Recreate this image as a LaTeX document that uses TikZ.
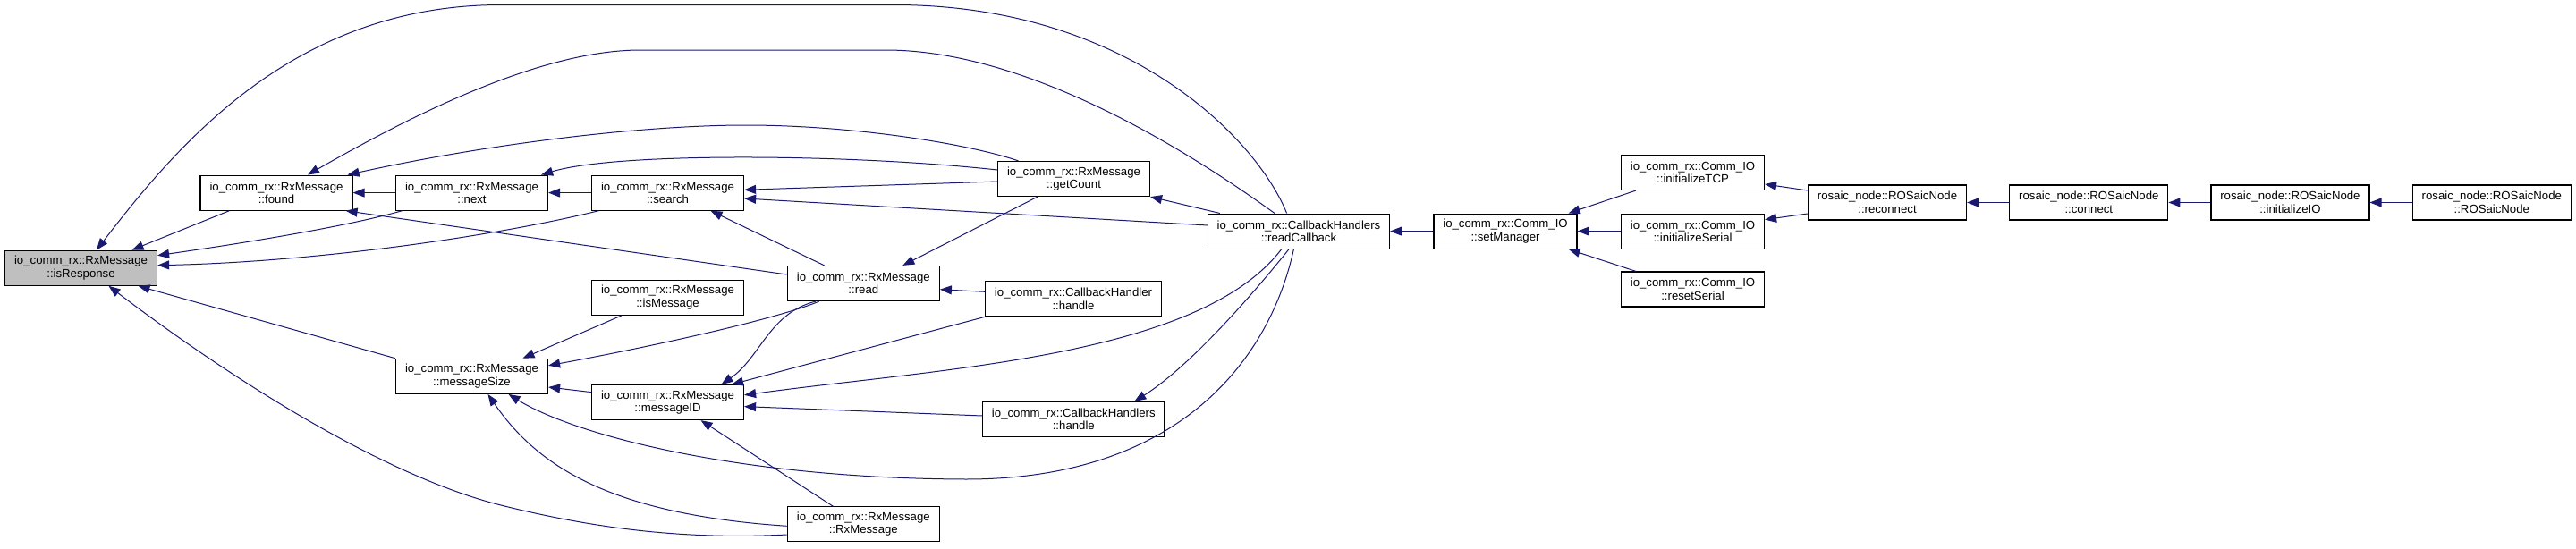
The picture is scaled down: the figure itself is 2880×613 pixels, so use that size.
\documentclass[tikz,border=0pt]{standalone}
\usepackage{fontspec}
\setmainfont{Liberation Sans}
\usetikzlibrary{arrows.meta}
\definecolor{edgeblue}{HTML}{191970}
\definecolor{rootgray}{HTML}{BFBFBF}

\begin{document}
\begin{tikzpicture}[x=1pt,y=-1pt,
  fn/.style={draw=black, line width=1.2pt, fill=white, align=center, inner sep=0pt,
    minimum height=39pt, font=\fontsize{13.2}{14.5}\selectfont},
  rx/.style={fn, minimum width=170pt},
  cb/.style={fn, minimum width=203pt},
  io/.style={fn, minimum width=160pt},
  ros/.style={fn, minimum width=177pt},
  callline/.style={draw=edgeblue, line width=1pt, arrows={Triangle[length=13pt,width=10pt]-}}]
  \useasboundingbox (0,0) rectangle (2880,613);

  % RxMessage nodes
  \node[rx, fill=rootgray] (isResponse) at (90.5,299.7) {io\_comm\_rx::RxMessage\\::isResponse};
  \node[rx] (found) at (309,215.6) {io\_comm\_rx::RxMessage\\::found};
  \node[rx] (next) at (527.5,215.6) {io\_comm\_rx::RxMessage\\::next};
  \node[rx] (search) at (746.5,215.6) {io\_comm\_rx::RxMessage\\::search};
  \node[rx] (getCount) at (1200.5,200) {io\_comm\_rx::RxMessage\\::getCount};
  \node[rx] (read) at (965.3,317) {io\_comm\_rx::RxMessage\\::read};
  \node[rx] (isMessage) at (746.5,332.8) {io\_comm\_rx::RxMessage\\::isMessage};
  \node[rx] (msgSize) at (527.5,420.8) {io\_comm\_rx::RxMessage\\::messageSize};
  \node[rx] (msgID) at (746.5,450) {io\_comm\_rx::RxMessage\\::messageID};
  \node[rx] (rxMsg) at (965.3,586.3) {io\_comm\_rx::RxMessage\\::RxMessage};
  % callback handlers
  \node[cb, minimum width=197pt] (cbHandle) at (1200,334.3) {io\_comm\_rx::CallbackHandler\\::handle};
  \node[cb] (cbsHandle) at (1200.3,469) {io\_comm\_rx::CallbackHandlers\\::handle};
  \node[cb] (readCb) at (1452,258.6) {io\_comm\_rx::CallbackHandlers\\::readCallback};
  % Comm_IO
  \node[io] (setMgr) at (1683,258.6) {io\_comm\_rx::Comm\_IO\\::setManager};
  \node[io] (initTCP) at (1892.5,193) {io\_comm\_rx::Comm\_IO\\::initializeTCP};
  \node[io] (initSerial) at (1892.5,258.6) {io\_comm\_rx::Comm\_IO\\::initializeSerial};
  \node[io] (resetSerial) at (1892.5,323.5) {io\_comm\_rx::Comm\_IO\\::resetSerial};
  % ROSaicNode
  \node[ros] (reconnect) at (2110,226.5) {rosaic\_node::ROSaicNode\\::reconnect};
  \node[ros] (connect) at (2335.3,226.5) {rosaic\_node::ROSaicNode\\::connect};
  \node[ros] (initIO) at (2560.4,226.5) {rosaic\_node::ROSaicNode\\::initializeIO};
  \node[ros] (rosaicNode) at (2785.8,226.5) {rosaic\_node::ROSaicNode\\::ROSaicNode};

  % callers of isResponse
  \draw[callline] ([xshift=17.5pt]isResponse.north) .. controls (200,160) and (330,5.5) .. (560,5.5) -- (1000,5.5) .. controls (1260,5.5) and (1405,155) .. ([xshift=-13.4pt]readCb.north);
  \draw[callline] ([xshift=57pt]isResponse.north) -- ([xshift=33pt]found.south west);
  \draw[callline] ([yshift=14pt]isResponse.east) .. controls (300,268) and (400,250) .. ([xshift=7.6pt]next.south west);
  \draw[callline] ([yshift=3pt]isResponse.east) .. controls (350,293) and (550,265) .. ([xshift=8.5pt]search.south west);
  \draw[callline] ([xshift=64pt]isResponse.south) -- (msgSize.north west);
  \draw[callline] ([xshift=31pt]isResponse.south) .. controls (240,410) and (420,530) .. (560,565) .. controls (680,595) and (780,603) .. ([yshift=-11.7pt]rxMsg.west);

  % callers of found
  \draw[callline] ([xshift=35pt]found.north) .. controls (450,135) and (600,56) .. (716,56) -- (990,56) .. controls (1150,56) and (1330,170) .. ([xshift=-27pt]readCb.north);
  \draw[callline] ([xshift=-6pt]found.north east) .. controls (550,160) and (720,140) .. (834,140) .. controls (950,140) and (1080,160) .. ([xshift=-62pt]getCount.north);
  \draw[callline] (found.east) -- (next.west);
  \draw[callline] ([xshift=-8pt]found.south east) -- ([yshift=10pt]read.west);

  % callers of next and search
  \draw[callline] ([xshift=-8pt]next.north east) .. controls (690,170) and (950,172) .. ([yshift=10pt]getCount.west);
  \draw[callline] (next.east) -- (search.west);
  \draw[callline] ([yshift=3.3pt]search.east) -- ([yshift=-3pt]getCount.west);
  \draw[callline] ([yshift=-6.4pt]search.east) -- ([yshift=6.6pt]readCb.west);
  \draw[callline] ([xshift=48pt]search.south) -- ([xshift=-43.7pt]read.north);

  % getCount and read
  \draw[callline] (getCount.south east) -- ([xshift=14pt]readCb.north west);
  \draw[callline] ([xshift=44pt]read.north) -- ([xshift=-40.5pt]getCount.south);
  \draw[callline] ([yshift=-6.7pt]read.east) -- ([yshift=8pt]cbHandle.west);

  % callers of messageSize
  \draw[callline] ([xshift=57pt]msgSize.north) -- ([xshift=34pt]isMessage.south west);
  \draw[callline] ([yshift=12pt]msgSize.east) .. controls (700,393) and (860,360) .. ([xshift=36pt]read.south west);
  \draw[callline] ([yshift=-12.2pt]msgSize.east) -- ([yshift=11.4pt]msgID.west);
  \draw[callline] ([xshift=18pt]msgSize.south) .. controls (600,520) and (680,575) .. ([yshift=-2pt]rxMsg.west);
  \draw[callline] ([xshift=41pt]msgSize.south) .. controls (640,485) and (820,535) .. (1080,536) .. controls (1320,536) and (1420,400) .. ([xshift=-5.6pt]readCb.south);

  % callers of messageID
  \draw[callline] ([xshift=60pt]msgID.north) .. controls (850,400) and (860,350) .. ([xshift=32pt]read.south west);
  \draw[callline] ([xshift=-14pt]msgID.north east) -- (cbHandle.south west);
  \draw[callline] ([yshift=8.2pt]msgID.east) .. controls (1050,412) and (1340,400) .. ([xshift=-19.3pt]readCb.south);
  \draw[callline] ([yshift=-4.6pt]msgID.east) -- ([yshift=4pt]cbsHandle.west);
  \draw[callline] ([xshift=37pt]msgID.south) -- ([xshift=-34pt]rxMsg.north);

  % callers of CallbackHandlers::handle
  \draw[callline] ([xshift=68pt]cbsHandle.north) .. controls (1330,410) and (1400,330) .. ([xshift=-11pt]readCb.south);

  % Comm_IO and ROSaicNode chain
  \draw[callline] (readCb.east) -- (setMgr.west);
  \draw[callline] ([xshift=-10pt]setMgr.north east) -- ([xshift=17pt]initTCP.south west);
  \draw[callline] (setMgr.east) -- (initSerial.west);
  \draw[callline] ([xshift=-10pt]setMgr.south east) -- ([xshift=17pt]resetSerial.north west);
  \draw[callline] ([yshift=-13pt]initTCP.east) -- ([yshift=13.5pt]reconnect.west);
  \draw[callline] ([yshift=13pt]initSerial.east) -- ([yshift=-12.5pt]reconnect.west);
  \draw[callline] (reconnect.east) -- (connect.west);
  \draw[callline] (connect.east) -- (initIO.west);
  \draw[callline] (initIO.east) -- (rosaicNode.west);
\end{tikzpicture}
\end{document}
